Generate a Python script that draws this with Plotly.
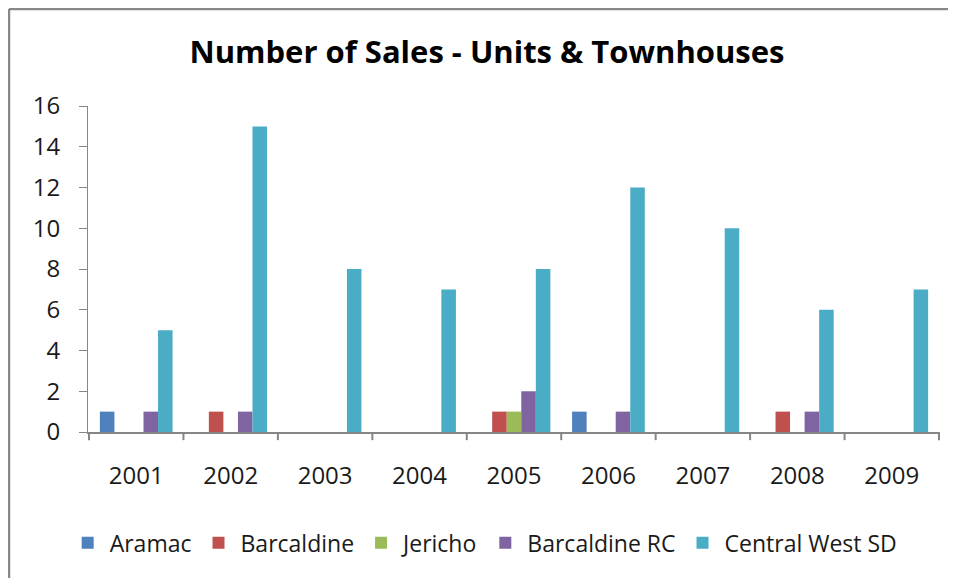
import plotly.graph_objects as go

years = ["2001", "2002", "2003", "2004", "2005", "2006", "2007", "2008", "2009"]
aramac = [1, 0, 0, 0, 0, 1, 0, 0, 0]
barcaldine = [0, 1, 0, 0, 1, 0, 0, 1, 0]
jericho = [0, 0, 0, 0, 1, 0, 0, 0, 0]
barcaldine_rc = [1, 1, 0, 0, 2, 1, 0, 1, 0]
central_west = [5, 15, 8, 7, 8, 12, 10, 6, 7]

series = [
    ("Aramac", aramac, "#4F81BD"),
    ("Barcaldine", barcaldine, "#C0504D"),
    ("Jericho", jericho, "#9BBB59"),
    ("Barcaldine RC", barcaldine_rc, "#8064A2"),
    ("Central West SD", central_west, "#4BACC6"),
]

fig = go.Figure()
for name, vals, col in series:
    fig.add_trace(go.Bar(x=years, y=vals, name=name, marker=dict(color=col, line=dict(width=0))))

FONT = "Open Sans"
W, H = 940, 570
L, T, R, B = 80, 98, 8, 146
fig.update_layout(
    width=W, height=H,
    margin=dict(l=L, r=R, t=T, b=B),
    paper_bgcolor="white", plot_bgcolor="white",
    barmode="group", bargap=0.23, bargroupgap=0,
    title=dict(text="<b>Number of Sales - Units & Townhouses</b>", x=(487 - 8) / W, xanchor="center",
               yref="container", y=1 - 44 / H, yanchor="middle",
               font=dict(family=FONT, size=31, color="black")),
    font=dict(family=FONT, size=23, color="#1a1a1a"),
    showlegend=True,
    legend=dict(orientation="h", x=0.465, xanchor="center", y=-0.34, yanchor="middle",
                font=dict(family=FONT, size=23, color="#1a1a1a"), itemwidth=34,
                traceorder="normal"),
    xaxis=dict(showline=True, linecolor="#868686", linewidth=2, ticks="", showgrid=False,
               tickfont=dict(size=24), ticklabelstandoff=21),
    yaxis=dict(range=[0, 16], dtick=2, showline=True, linecolor="#868686", linewidth=1,
               ticks="outside", ticklen=8, tickcolor="#868686", showgrid=False, zeroline=False,
               tickfont=dict(size=24), ticklabelstandoff=14),
)

pw = W - L - R
ph = H - T - B

# category divider ticks on the x axis
for i in range(len(years) + 1):
    fig.add_shape(type="line", xref="x", yref="paper", x0=i - 0.5, x1=i - 0.5, y0=0, y1=-0.025,
                  line=dict(color="#868686", width=2))

# outer frame (left and top edges visible)
fx = (1 - L) / pw
fy = (ph + T - 1) / ph
fig.add_shape(type="line", xref="paper", yref="paper", x0=fx, x1=fx, y0=-1, y1=fy,
              line=dict(color="#888888", width=2.5), layer="below")
fig.add_shape(type="line", xref="paper", yref="paper", x0=fx, x1=(W - L) / pw, y0=fy, y1=fy,
              line=dict(color="#888888", width=2.5), layer="below")

fig.write_html("out.html")
